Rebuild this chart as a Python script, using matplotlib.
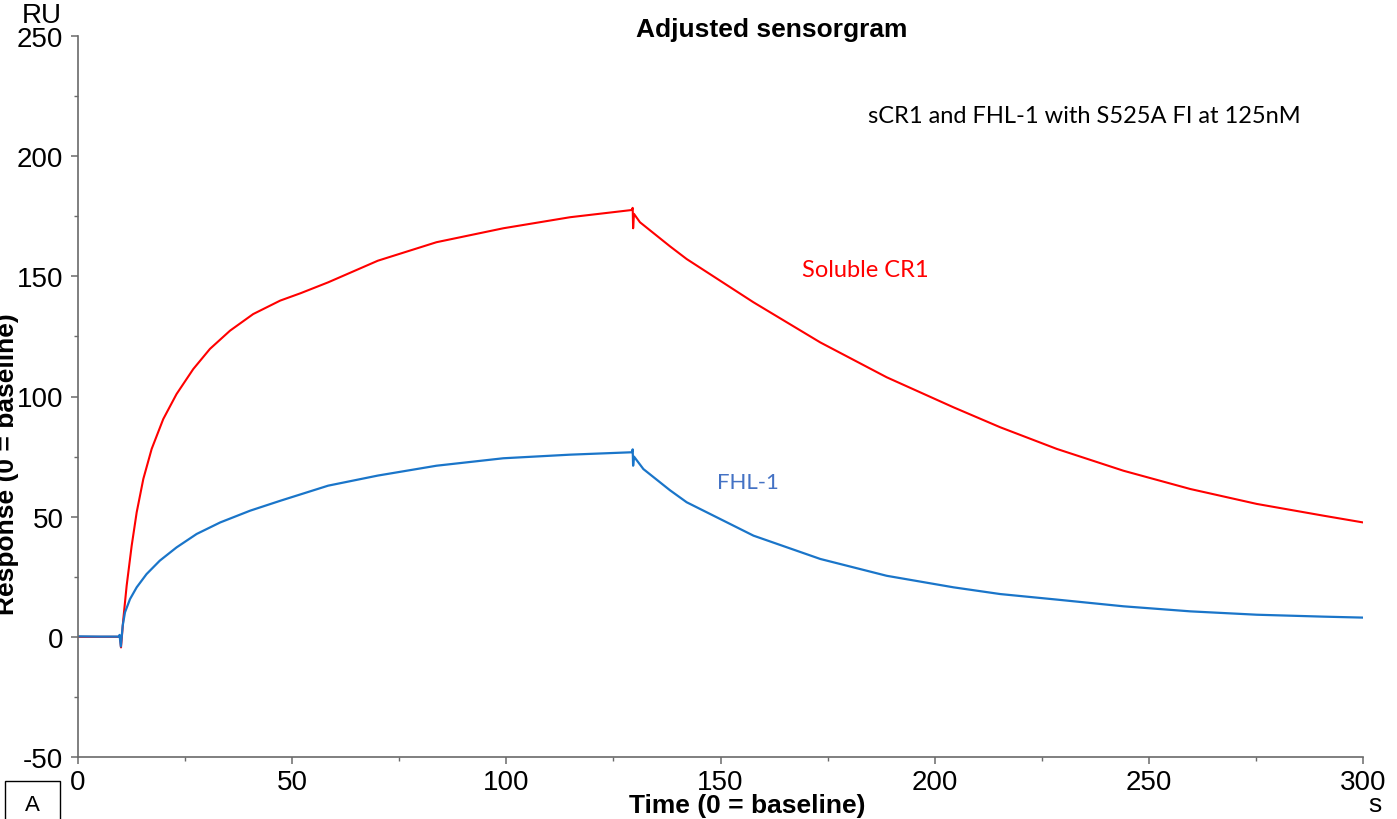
import matplotlib
matplotlib.use("Agg")
import matplotlib.pyplot as plt
from matplotlib.patches import Rectangle
from matplotlib.ticker import MultipleLocator

plt.rcParams['font.family'] = ['Liberation Sans', 'DejaVu Sans']
plt.rcParams['axes.unicode_minus'] = False

# ---- data ----
t_red = [0, 5, 9.8, 10.04, 10.58, 11.36, 12.53, 13.7, 15.25, 17.2, 19.9, 23.0, 26.9, 30.8,
         35.5, 40.9, 47.2, 52.0, 58.4, 70.0, 83.7, 99.3, 114.9, 129.3, 129.5, 129.6, 129.8,
         131.2, 138.2, 142.1, 157.7, 173.3, 188.8, 204.4, 215.3, 228.5, 244.1, 259.7,
         275.2, 290.8, 300]
resp_red = [0, 0, 0, -4.4, 7.4, 21.3, 37.9, 51.8, 65.7, 78.2, 90.6, 101.0, 111.4, 119.8,
            127.4, 134.3, 139.9, 143.0, 147.5, 156.5, 164.2, 170.0, 174.6, 177.6, 178.5, 170.0, 176.0,
            172.5, 162.5, 157.2, 139.2, 122.5, 108.0, 95.5, 87.2, 78.2, 69.1, 61.5,
            55.3, 50.4, 47.6]

t_blue = [0, 5, 9.5, 9.7, 10.0, 10.43, 10.97, 12.14, 13.7, 16.0, 19.1, 23.0, 27.7, 33.2, 40.2,
          47.2, 58.4, 70.0, 83.7, 99.3, 114.9, 129.3, 129.5, 129.6, 129.8, 132.0, 138.2, 142.1,
          157.7, 173.3, 188.8, 204.4, 215.3, 228.5, 244.1, 259.7, 275.2, 290.8, 300]
resp_blue = [0.2, 0.1, 0.1, 0.8, -4.0, 4.6, 10.2, 15.7, 20.6, 26.1, 31.7, 37.2, 42.8, 47.6, 52.5,
             56.6, 62.9, 67.1, 71.2, 74.3, 75.8, 76.8, 78.0, 71.2, 75.0, 69.8, 61.0, 56.0,
             42.1, 32.4, 25.4, 20.6, 17.8, 15.5, 12.7, 10.6, 9.2, 8.4, 8.0]

x_ticks = [0, 50, 100, 150, 200, 250, 300]
y_ticks = [-50, 0, 50, 100, 150, 200, 250]

W, H = 1397, 820
fig = plt.figure(figsize=(W / 100, H / 100), dpi=100)
ax = fig.add_axes([78 / W, (H - 758) / H, (1363 - 78) / W, (758 - 37) / H])

red = '#ff0000'
blue = '#1a75c9'
ax.plot(t_red, resp_red, color=red, lw=1.5, solid_joinstyle='round')
ax.plot(t_blue, resp_blue, color=blue, lw=1.6, solid_joinstyle='round')

ax.set_xlim(0, 300)
ax.set_ylim(-50, 250)
ax.set_xticks(x_ticks)
ax.set_yticks(y_ticks)
ax.xaxis.set_minor_locator(MultipleLocator(25))
ax.yaxis.set_minor_locator(MultipleLocator(25))
ax.set_xticklabels([str(v) for v in x_ticks])
ax.set_yticklabels([str(v) for v in y_ticks])

for s in ['top', 'right']:
    ax.spines[s].set_visible(False)
for s in ['left', 'bottom']:
    ax.spines[s].set_color('#6a6a6a')
    ax.spines[s].set_linewidth(1.2)

ax.tick_params(axis='both', which='major', length=5, width=1.1, color='#6a6a6a',
               labelsize=20, direction='out')
ax.tick_params(axis='both', which='minor', length=3, width=1.0, color='#6a6a6a', direction='out')
ax.tick_params(axis='x', pad=3.5)
ax.tick_params(axis='y', pad=5.5)

# title and axis labels
fig.text(772 / W, 1 - 30 / H, 'Adjusted sensorgram', ha='center', va='center',
         fontsize=19, fontweight='bold')
fig.text(747 / W, 1 - 806 / H, 'Time (0 = baseline)', ha='center', va='center',
         fontsize=19, fontweight='bold')
fig.text(19 / W, 1 - 464 / H, 'Response (0 = baseline)', ha='right', va='center',
         rotation=90, fontsize=19, fontweight='bold')
fig.text(42 / W, 1 - 16 / H, 'RU', ha='center', va='center', fontsize=20)
fig.text(1375 / W, 1 - 805 / H, 's', ha='center', va='center', fontsize=19)

# annotations
ax.text(184.4, 217.1, 'sCR1 and FHL-1 with S525A FI at 125nM', ha='left', va='center',
        fontsize=17, family=['Lato', 'DejaVu Sans'])
ax.text(169.0, 153.0, 'Soluble CR1', ha='left', va='center', color=red,
        fontsize=17, family=['Lato', 'DejaVu Sans'])
ax.text(149.2, 64.4, 'FHL-1', ha='left', va='center', color='#4472c4',
        fontsize=16, family=['Lato', 'DejaVu Sans'])

# panel letter box
fig.patches.append(Rectangle((5 / W, 0 - 10 / H), 55 / W, (1 - 782 / H) + 10 / H,
                             transform=fig.transFigure, fill=False, edgecolor='black',
                             linewidth=1.0))
fig.text(32 / W, 1 - 806 / H, 'A', ha='center', va='center', fontsize=16)

fig.savefig('out.png', dpi=100)
